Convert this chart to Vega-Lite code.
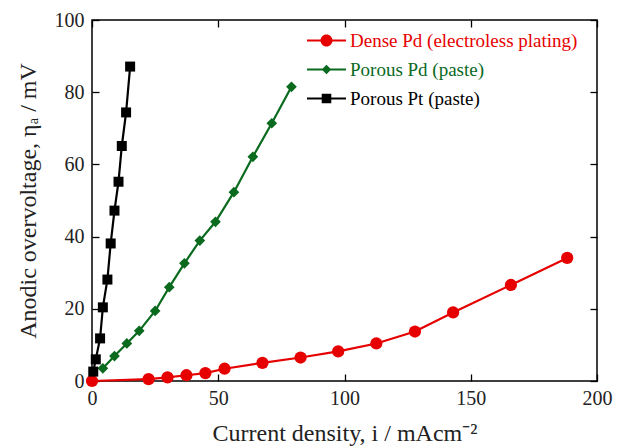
{
  "$schema": "https://vega.github.io/schema/vega-lite/v6.json",
  "autosize": {"type": "none"},
  "padding": {"left": 92, "top": 20, "right": 27, "bottom": 67},
  "width": 505,
  "height": 361,
  "background": "white",
  "config": {
    "view": {"stroke": "#000000", "strokeWidth": 1.5},
    "font": "Liberation Serif",
    "axis": {
      "grid": false,
      "domain": false,
      "labelFlush": false,
      "tickColor": "#000000",
      "tickSize": -7,
      "tickWidth": 1.3,
      "labelFont": "Liberation Serif",
      "labelFontSize": 20,
      "labelColor": "#222222",
      "titleFont": "Liberation Serif",
      "titleFontSize": 24,
      "titleFontWeight": "normal",
      "titleColor": "#222222"
    }
  },
  "data": {
    "values": [
      {"series": "Dense Pd (electroless plating)", "x": 0, "y": 0},
      {"series": "Dense Pd (electroless plating)", "x": 22.4, "y": 0.5},
      {"series": "Dense Pd (electroless plating)", "x": 29.9, "y": 1.0},
      {"series": "Dense Pd (electroless plating)", "x": 37.4, "y": 1.6},
      {"series": "Dense Pd (electroless plating)", "x": 44.9, "y": 2.2},
      {"series": "Dense Pd (electroless plating)", "x": 52.5, "y": 3.4},
      {"series": "Dense Pd (electroless plating)", "x": 67.5, "y": 5.0},
      {"series": "Dense Pd (electroless plating)", "x": 82.6, "y": 6.5},
      {"series": "Dense Pd (electroless plating)", "x": 97.5, "y": 8.2},
      {"series": "Dense Pd (electroless plating)", "x": 112.6, "y": 10.4},
      {"series": "Dense Pd (electroless plating)", "x": 127.9, "y": 13.7},
      {"series": "Dense Pd (electroless plating)", "x": 143.0, "y": 19.0},
      {"series": "Dense Pd (electroless plating)", "x": 165.9, "y": 26.6},
      {"series": "Dense Pd (electroless plating)", "x": 188.2, "y": 34.1},
      {"series": "Porous Pd (paste)", "x": 4.3, "y": 3.5},
      {"series": "Porous Pd (paste)", "x": 8.9, "y": 6.9},
      {"series": "Porous Pd (paste)", "x": 13.8, "y": 10.4},
      {"series": "Porous Pd (paste)", "x": 18.7, "y": 13.9},
      {"series": "Porous Pd (paste)", "x": 25.0, "y": 19.4},
      {"series": "Porous Pd (paste)", "x": 30.6, "y": 26.0},
      {"series": "Porous Pd (paste)", "x": 36.6, "y": 32.6},
      {"series": "Porous Pd (paste)", "x": 42.7, "y": 38.9},
      {"series": "Porous Pd (paste)", "x": 48.9, "y": 44.1},
      {"series": "Porous Pd (paste)", "x": 56.2, "y": 52.3},
      {"series": "Porous Pd (paste)", "x": 63.7, "y": 62.1},
      {"series": "Porous Pd (paste)", "x": 71.2, "y": 71.4},
      {"series": "Porous Pd (paste)", "x": 79.0, "y": 81.5},
      {"series": "Porous Pt (paste)", "x": 0.5, "y": 2.6},
      {"series": "Porous Pt (paste)", "x": 1.5, "y": 6.0},
      {"series": "Porous Pt (paste)", "x": 3.2, "y": 11.8},
      {"series": "Porous Pt (paste)", "x": 4.3, "y": 20.4},
      {"series": "Porous Pt (paste)", "x": 6.1, "y": 28.1},
      {"series": "Porous Pt (paste)", "x": 7.4, "y": 38.1},
      {"series": "Porous Pt (paste)", "x": 8.9, "y": 47.2},
      {"series": "Porous Pt (paste)", "x": 10.5, "y": 55.2},
      {"series": "Porous Pt (paste)", "x": 11.8, "y": 65.1},
      {"series": "Porous Pt (paste)", "x": 13.5, "y": 74.4},
      {"series": "Porous Pt (paste)", "x": 15.1, "y": 87.1}
    ]
  },
  "resolve": {"axis": {"x": "independent", "y": "independent"}},
  "layer": [
    {
      "mark": {"type": "line", "strokeWidth": 2.2},
      "encoding": {
        "x": {"field": "x", "type": "quantitative", "scale": {"domain": [0, 200], "nice": false},
              "axis": {"orient": "bottom", "values": [0, 50, 100, 150, 200], "title": "Current density, i / mAcm⁻²", "labelPadding": 14, "titlePadding": 13}},
        "y": {"field": "y", "type": "quantitative", "scale": {"domain": [0, 100], "nice": false},
              "axis": {"orient": "left", "values": [0, 20, 40, 60, 80, 100], "title": "Anodic overvoltage, ηₐ / mV", "labelPadding": 15, "titlePadding": 14}},
        "color": {"field": "series", "type": "nominal",
                  "scale": {"domain": ["Dense Pd (electroless plating)", "Porous Pd (paste)", "Porous Pt (paste)"], "range": ["#e60000", "#0a6a1e", "#000000"]},
                  "legend": {
                    "title": null,
                    "orient": "none",
                    "legendX": 225,
                    "legendY": 11,
                    "padding": 0,
                    "symbolSize": 144,
                    "symbolStrokeWidth": 0,
                    "labelFont": "Liberation Serif",
                    "labelFontSize": 19,
                    "labelLimit": 0,
                    "labelOffset": 14,
                    "rowPadding": 9,
                    "encode": {
                      "labels": {"update": {"fill": {"signal": "datum.value === 'Dense Pd (electroless plating)' ? '#e60000' : datum.value === 'Porous Pd (paste)' ? '#0a6a1e' : '#000000'"}}},
                      "symbols": {"update": {
                        "shape": {"signal": "datum.value === 'Dense Pd (electroless plating)' ? 'M-3.25,-0.17H3.25V0.17H-3.25Z M-1,0A1,1,0,1,1,1,0A1,1,0,1,1,-1,0Z' : datum.value === 'Porous Pd (paste)' ? 'M-3.25,-0.17H3.25V0.17H-3.25Z M0,-0.8L0.8,0L0,0.8L-0.8,0Z' : 'M-3.25,-0.17H3.25V0.17H-3.25Z M-0.8,-0.8H0.8V0.8H-0.8Z'"},
                        "fill": {"signal": "datum.value === 'Dense Pd (electroless plating)' ? '#e60000' : datum.value === 'Porous Pd (paste)' ? '#0a6a1e' : '#000000'"},
                        "stroke": {"value": null},
                        "strokeWidth": {"value": 0},
                        "size": {"value": 144},
                        "opacity": {"value": 1}
                      }}
                    }
                  }}
      }
    },
    {
      "transform": [{"filter": {"field": "series", "equal": "Dense Pd (electroless plating)"}}],
      "mark": {"type": "point", "filled": true, "opacity": 1, "strokeWidth": 0, "shape": "circle", "size": 150, "color": "#e60000"},
      "encoding": {
        "x": {"field": "x", "type": "quantitative",
              "axis": {"orient": "top", "values": [0, 50, 100, 150, 200], "labels": false, "title": null}},
        "y": {"field": "y", "type": "quantitative",
              "axis": {"orient": "right", "values": [0, 20, 40, 60, 80, 100], "labels": false, "title": null}}
      }
    },
    {
      "transform": [{"filter": {"field": "series", "equal": "Porous Pd (paste)"}}],
      "mark": {"type": "point", "filled": true, "opacity": 1, "strokeWidth": 0, "shape": "diamond", "size": 115, "color": "#0a6a1e"},
      "encoding": {
        "x": {"field": "x", "type": "quantitative", "axis": null},
        "y": {"field": "y", "type": "quantitative", "axis": null}
      }
    },
    {
      "transform": [{"filter": {"field": "series", "equal": "Porous Pt (paste)"}}],
      "mark": {"type": "point", "filled": true, "opacity": 1, "strokeWidth": 0, "shape": "square", "size": 100, "color": "#000000"},
      "encoding": {
        "x": {"field": "x", "type": "quantitative", "axis": null},
        "y": {"field": "y", "type": "quantitative", "axis": null}
      }
    }
  ]
}
